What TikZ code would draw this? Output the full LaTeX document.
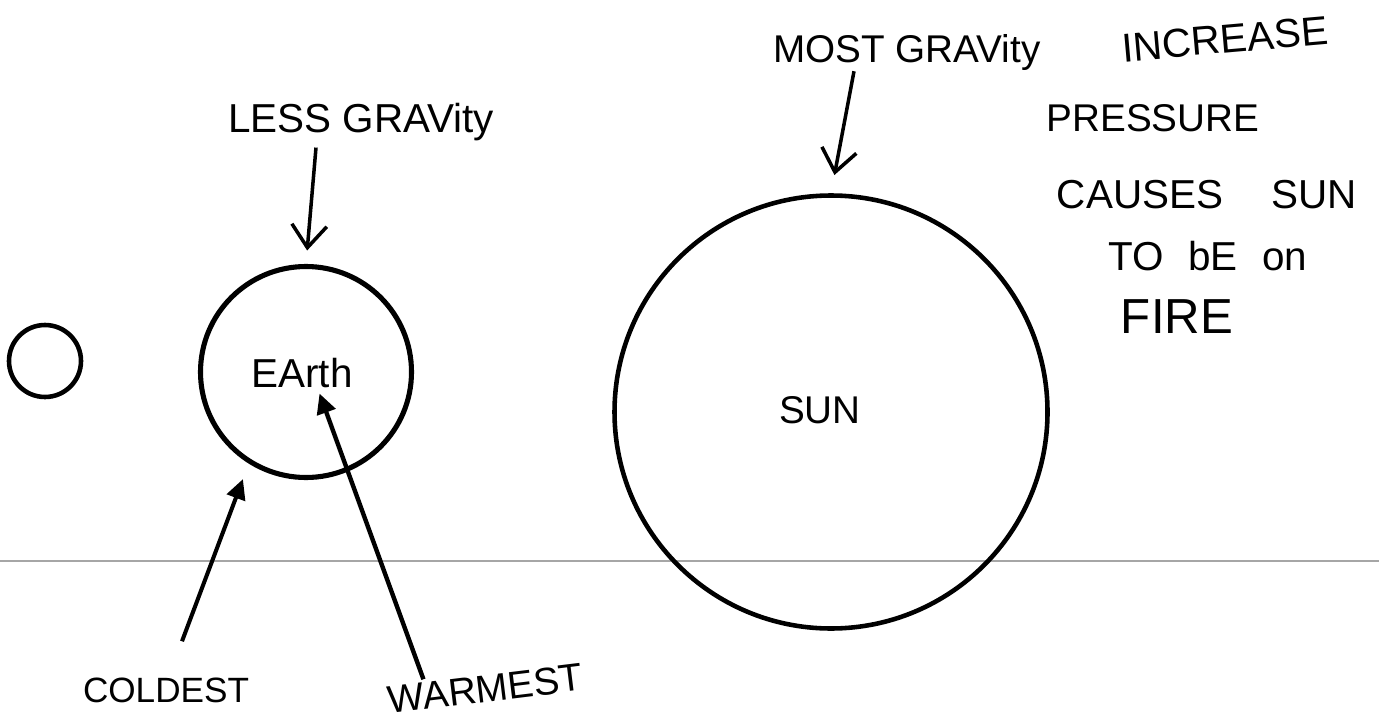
\documentclass[tikz,border=0pt]{standalone}
\usepackage{fontspec}
\setmainfont{Liberation Sans}
\usetikzlibrary{arrows.meta}

\begin{document}
\begin{tikzpicture}[
  hand/.style={font=\fontsize{23}{27}\selectfont, anchor=base},
  body/.style={draw, circle, line width=2.6pt, inner sep=0pt},
  barb/.style={-{Straight Barb[length=0.45cm,width=0.7cm]}, line width=2pt},
  fat/.style={-{Triangle[length=0.4cm,width=0.38cm]}, line width=2.5pt}
]
\useasboundingbox (0,0) rectangle (27.58,14.48);

% ground line
\draw[gray!70, line width=0.7pt] (0,3.26) -- (27.58,3.26);

\node[body, minimum size=1.44cm] (moon) at (0.90,7.26) {};
\node[body, minimum size=4.22cm, line width=2.9pt] (earth) at (6.12,7.04) {};
\node[body, minimum size=8.66cm] (sun) at (16.62,6.24) {};

\node[hand] (earthname) at (6.04,6.74) {EArth};
\node[hand, font=\fontsize{22}{26}\selectfont] (sunname) at (16.40,6.02) {SUN};

\node[hand] (less) at (7.22,11.82) {LESS GRAVity};
\node[hand, font=\fontsize{22}{26}\selectfont] (most) at (18.14,13.22) {MOST GRAVity};

% note on the right
\node[hand, rotate=5] (increase) at (24.52,13.42) {INCREASE};
\node[hand, font=\fontsize{22}{26}\selectfont] (pressure) at (23.06,11.84) {PRESSURE};
\node[hand] (causes) at (24.14,10.32) {CAUSES\hspace{1.2em}SUN};
\node[hand] (tobe) at (24.16,9.08) {TO\hspace{0.6em}bE\hspace{0.6em}on};
\node[hand, font=\fontsize{28}{32}\selectfont] (fire) at (23.54,7.82) {FIRE};

\node[hand, font=\fontsize{20}{24}\selectfont] (coldest) at (3.32,0.44) {COLDEST};
\node[hand, font=\fontsize{22}{26}\selectfont, rotate=7] (warmest) at (9.74,0.44) {WARMEST};

\draw[barb, shorten >=0.27cm] ([xshift=-0.9cm]less.south) -- (earth.north);
\draw[barb, shorten >=0.37cm] ([xshift=-1.06cm,yshift=0.12cm]most.south) -- (sun.north);

\draw[fat, line width=2.3pt, shorten >=0.33cm] ([xshift=0.32cm,yshift=0.6cm]coldest.north) -- (earth.238);
\draw[fat] ([xshift=0.88cm,yshift=0.05cm]warmest.north west) -- ([xshift=0.35cm]earthname.south);

\end{tikzpicture}
\end{document}
